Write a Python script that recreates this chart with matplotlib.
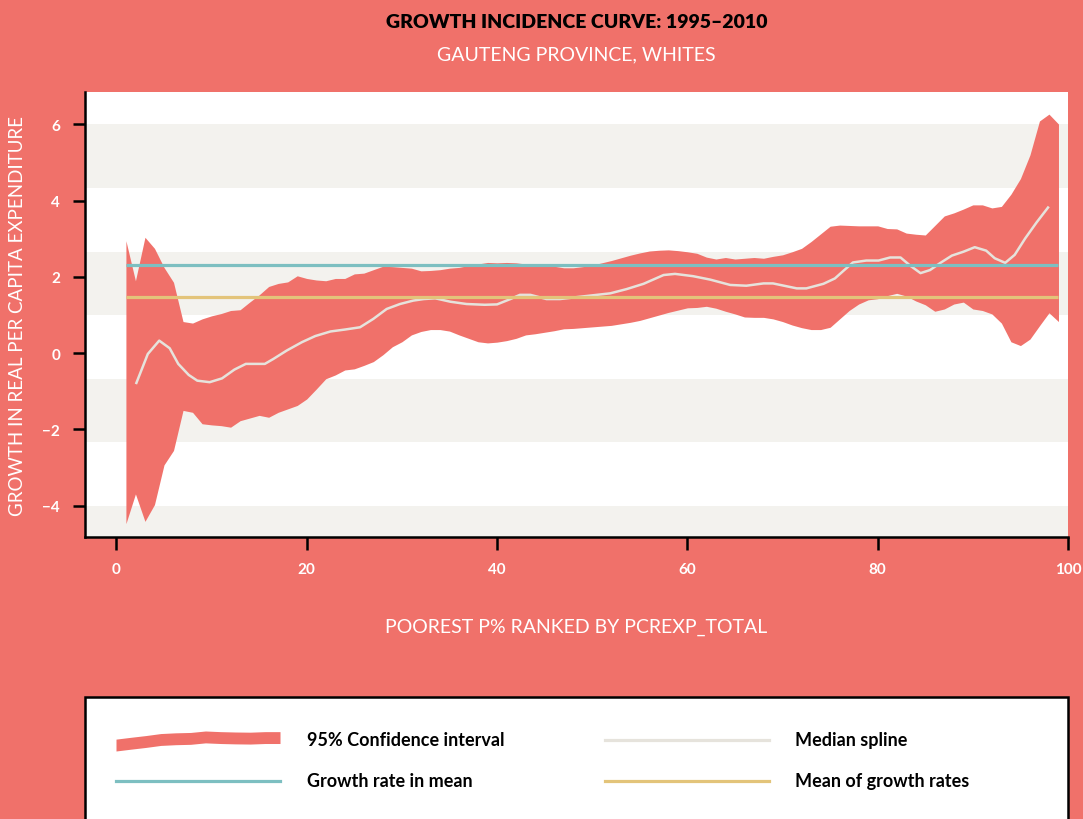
import numpy as np
import matplotlib.pyplot as plt
from matplotlib.patches import Rectangle
from matplotlib.lines import Line2D

plt.rcParams['font.family'] = ['Lato', 'DejaVu Sans']

# percentile grid of the confidence band
pct = np.arange(1, 100)

ci_upper = [2.95, 1.90, 3.04, 2.75, 2.25, 1.86, 0.83, 0.79, 0.90, 0.98,
            1.04, 1.12, 1.14, 1.34, 1.53, 1.75, 1.83, 1.87, 2.03, 1.96,
            1.92, 1.90, 1.96, 1.96, 2.08, 2.10, 2.19, 2.28, 2.27, 2.25,
            2.23, 2.16, 2.17, 2.19, 2.23, 2.25, 2.30, 2.34, 2.38, 2.37,
            2.38, 2.37, 2.34, 2.34, 2.34, 2.28, 2.24, 2.24, 2.27, 2.31,
            2.37, 2.43, 2.50, 2.57, 2.63, 2.68, 2.70, 2.71, 2.69, 2.66,
            2.62, 2.52, 2.47, 2.51, 2.47, 2.49, 2.51, 2.49, 2.54, 2.58,
            2.66, 2.75, 2.93, 3.13, 3.33, 3.36, 3.35, 3.34, 3.34, 3.34,
            3.27, 3.26, 3.15, 3.12, 3.10, 3.35, 3.60, 3.68, 3.78, 3.89,
            3.89, 3.81, 3.85, 4.17, 4.58, 5.20, 6.09, 6.27, 6.01]

ci_lower = [-4.47, -3.69, -4.41, -3.97, -2.93, -2.55, -1.50, -1.55, -1.85, -1.88,
            -1.90, -1.94, -1.77, -1.70, -1.63, -1.68, -1.55, -1.46, -1.37, -1.20,
            -0.94, -0.67, -0.57, -0.44, -0.41, -0.32, -0.22, -0.04, 0.17, 0.30,
            0.48, 0.57, 0.62, 0.62, 0.58, 0.48, 0.39, 0.30, 0.27, 0.29,
            0.33, 0.39, 0.48, 0.51, 0.55, 0.59, 0.64, 0.65, 0.67, 0.69,
            0.71, 0.73, 0.77, 0.81, 0.86, 0.93, 1.00, 1.07, 1.13, 1.19,
            1.20, 1.23, 1.18, 1.10, 1.03, 0.95, 0.94, 0.94, 0.90, 0.83,
            0.74, 0.67, 0.62, 0.62, 0.68, 0.90, 1.12, 1.29, 1.40, 1.43,
            1.51, 1.57, 1.50, 1.37, 1.27, 1.10, 1.16, 1.29, 1.34, 1.16,
            1.12, 1.03, 0.79, 0.30, 0.20, 0.37, 0.72, 1.06, 0.83]

# median spline vertices
med_x = [2.1, 3.3, 4.5, 5.6, 6.5, 7.6, 8.5, 9.8, 11.1, 12.4, 13.6, 15.6, 16.5,
         17.9, 19.5, 20.9, 22.5, 24.0, 25.6, 27.0, 28.4, 29.8, 31.2, 32.3, 33.5,
         35.1, 36.8, 38.7, 40.0, 41.4, 42.4, 43.5, 45.2, 46.6, 48.7, 51.9, 53.6,
         55.4, 57.5, 58.7, 60.6, 62.4, 64.5, 66.2, 68.0, 69.0, 71.5, 72.5, 74.3,
         75.5, 76.4, 77.4, 78.8, 80.1, 81.3, 82.4, 83.4, 84.5, 85.5, 86.6, 87.8,
         89.0, 90.2, 91.4, 92.3, 93.4, 94.4, 95.5, 96.7, 97.9]
med_y = [-0.78, -0.02, 0.33, 0.13, -0.28, -0.57, -0.72, -0.76, -0.66, -0.43, -0.28,
         -0.28, -0.15, 0.07, 0.29, 0.45, 0.57, 0.62, 0.68, 0.90, 1.16, 1.29, 1.38,
         1.42, 1.44, 1.35, 1.29, 1.27, 1.28, 1.42, 1.53, 1.53, 1.42, 1.42, 1.48,
         1.57, 1.68, 1.82, 2.05, 2.08, 2.02, 1.93, 1.79, 1.77, 1.83, 1.83, 1.70,
         1.70, 1.82, 1.96, 2.16, 2.38, 2.43, 2.43, 2.51, 2.51, 2.30, 2.10, 2.18,
         2.37, 2.56, 2.66, 2.78, 2.69, 2.49, 2.37, 2.58, 3.01, 3.43, 3.82]

growth_in_mean = 2.31
mean_of_growth = 1.47

coral = '#F0716A'
stripe = '#F3F2EE'
teal = '#7DBFC1'
gold = '#E3C47A'
median_col = '#E6E3DC'

W, H = 1083, 820
fig = plt.figure(figsize=(W / 100, H / 100), dpi=100, facecolor=coral)
ax = fig.add_axes([85 / W, 1 - 538 / H, (1068 - 85) / W, (538 - 93) / H])
ax.set_facecolor('white')

ax.set_xlim(-3.3, 100)
ax.set_ylim(-4.82, 6.85)

# alternating grey stripes
for top in np.arange(6, -6, -10 / 3):
    ax.axhspan(top - 5 / 3, top, color=stripe, lw=0, zorder=0)

ax.fill_between(pct, ci_lower, ci_upper, color=coral, lw=0, zorder=2)
ax.plot(med_x, med_y, color=median_col, lw=1.8, zorder=3)
ax.hlines(growth_in_mean, pct[0], pct[-1], color=teal, lw=2.3, zorder=4)
ax.hlines(mean_of_growth, pct[0], pct[-1], color=gold, lw=2.3, zorder=4)

for s in ['top', 'right']:
    ax.spines[s].set_visible(False)
for s in ['left', 'bottom']:
    ax.spines[s].set_linewidth(1.8)
    ax.spines[s].set_color('black')

ax.set_xticks([0, 20, 40, 60, 80, 100])
ax.set_yticks([-4, -2, 0, 2, 4, 6])
ax.tick_params(length=9, width=1.8, colors='black', labelcolor='white',
               labelsize=11, pad=9)
for lab in ax.get_xticklabels() + ax.get_yticklabels():
    lab.set_fontweight('bold')

ax.set_xlabel('POOREST P% RANKED BY PCREXP_TOTAL', color='white', fontsize=14)
ax.xaxis.set_label_coords(0.5, -(627 - 538) / (538 - 93), transform=ax.transAxes)
ax.xaxis.label.set_va('center')
ax.set_ylabel('GROWTH IN REAL PER CAPITA EXPENDITURE', color='white', fontsize=13.5)
ax.yaxis.set_label_coords(-(85 - 18) / (1068 - 85), 0.5, transform=ax.transAxes)
ax.yaxis.label.set_va('center')

cx = (85 + 1068) / 2 / W
fig.text(cx, 1 - 22 / H, 'GROWTH INCIDENCE CURVE: 1995–2010', ha='center',
         va='center', fontsize=14, fontweight='heavy', color='black')
fig.text(cx, 1 - 55 / H, 'GAUTENG PROVINCE, WHITES', ha='center',
         va='center', fontsize=14, color='white')

# legend box
fig.patches.append(Rectangle((85 / W, -0.05), (1068 - 85) / W, 1 - 698 / H + 0.05,
                             transform=fig.transFigure, facecolor='white',
                             edgecolor='black', lw=1.8, zorder=1))

r1, r2 = 1 - 741 / H, 1 - 782 / H
hax = fig.add_axes([116 / W, 1 - 753 / H, (280 - 116) / W, 22 / H], zorder=3)
hax.axis('off')
seg = np.array(ci_upper[12:24])
hax.fill_between(np.arange(len(seg)), seg - 1.3, seg, color=coral, lw=0)
hax.set_xlim(0, len(seg) - 1)

for (x0, x1, y, col) in [(116, 280, r2, teal), (605, 769, r1, median_col),
                         (605, 769, r2, gold)]:
    fig.add_artist(Line2D([x0 / W, x1 / W], [y, y], color=col, lw=2.3,
                          transform=fig.transFigure, zorder=3))

for (x0, y, txt) in [(307, r1, '95% Confidence interval'),
                     (307, r2, 'Growth rate in mean'),
                     (795, r1, 'Median spline'),
                     (795, r2, 'Mean of growth rates')]:
    fig.text(x0 / W, y, txt, ha='left', va='center', fontsize=13,
             fontweight='bold', color='black', zorder=3)

fig.savefig('out.png', dpi=100, facecolor=coral)
